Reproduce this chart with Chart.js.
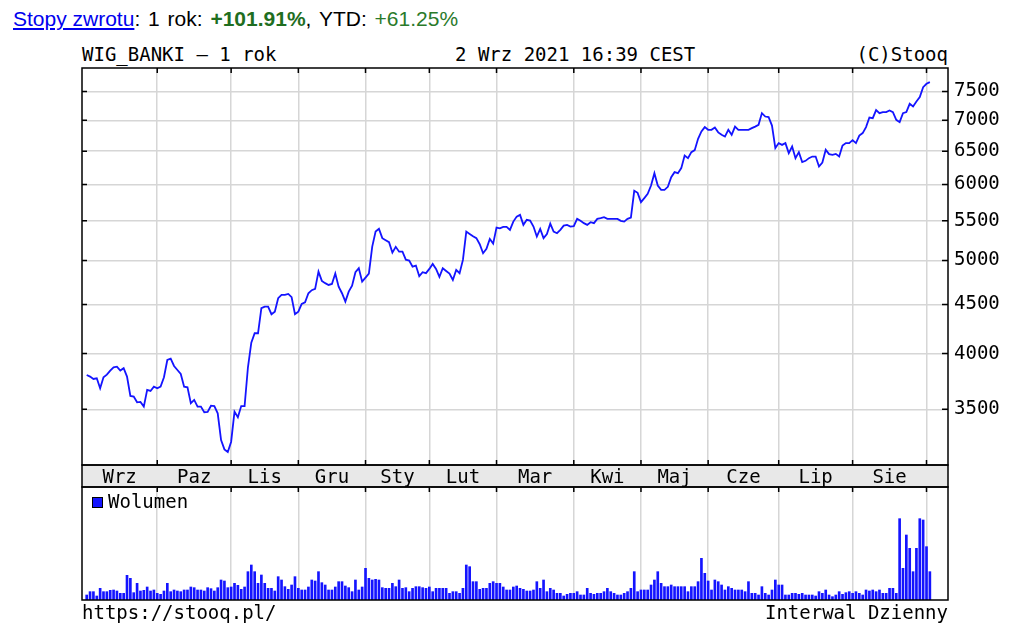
<!DOCTYPE html>
<html>
<head>
<meta charset="utf-8">
<script src="https://cdn.jsdelivr.net/npm/chart.js@4.4.1/dist/chart.umd.min.js"></script>
<style>
  body { margin: 0; background: #fff; width: 1024px; height: 629px; overflow: hidden; position: relative; }
  .mono { position: absolute; font-family: "DejaVu Sans Mono", monospace; font-size: 19px; line-height: 20px; white-space: pre; color: #000; }
  #hdr { position: absolute; left: 13px; top: 7px; font-family: "Liberation Sans", Arial, sans-serif; font-size: 21px; line-height: 24px; word-spacing: 2px; white-space: pre; color: #000; }
  #hdr a { color: #0000ee; text-decoration: underline; word-spacing: 0; }
  #hdr .g1 { color: #1f6e1f; font-weight: bold; }
  #hdr .g2 { color: #2a7a2a; }
  canvas { position: absolute; left: 0; }
  #leg_box { position: absolute; left: 92px; top: 497px; width: 9px; height: 9px; background: #1414ff; border: 1px solid #000; }
</style>
</head>
<body>
<div id="hdr"><a href="#">Stopy zwrotu</a>: 1 rok: <span class="g1">+101.91%</span>, YTD: <span class="g2">+61.25%</span></div>
<div class="mono" style="left:82px;top:44px">WIG_BANKI – 1 rok</div>
<div class="mono" style="left:455px;top:44px">2 Wrz 2021 16:39 CEST</div>
<div class="mono" style="right:76px;top:44px">(C)Stooq</div>

<canvas id="price_chart" width="1024" height="428" style="top:60px"></canvas>
<canvas id="volume_chart" width="1024" height="125" style="top:480px"></canvas>

<div id="leg_box"></div>
<div class="mono" style="left:108px;top:491px">Wolumen</div>
<div class="mono" style="left:82px;top:602px">https://stooq.pl/</div>
<div class="mono" style="right:76px;top:602px">Interwal Dzienny</div>

<script>
// daily closes, session index 0 = 2 Wrz 2020 ... 251 = 2 Wrz 2021
const close_values = [
  3800, 3785, 3764, 3770, 3681, 3779, 3803, 3840, 3871, 3876,
  3840, 3862, 3785, 3614, 3608, 3559, 3562, 3522, 3666, 3657,
  3695, 3681, 3695, 3779, 3939, 3952, 3883, 3846, 3809, 3695,
  3689, 3551, 3579, 3522, 3522, 3475, 3478, 3530, 3527, 3466,
  3251, 3179, 3159, 3238, 3480, 3433, 3527, 3527, 3871, 4106,
  4200, 4200, 4460, 4477, 4477, 4396, 4423, 4568, 4604, 4604,
  4615, 4579, 4396, 4423, 4506, 4524, 4623, 4657, 4671, 4869,
  4762, 4736, 4716, 4727, 4846, 4697, 4623, 4531, 4641, 4708,
  4862, 4909, 4753, 4799, 4846, 5171, 5360, 5395, 5276, 5250,
  5225, 5096, 5167, 5108, 5108, 5011, 5000, 4928, 4940, 4816,
  4862, 4851, 4901, 4960, 4901, 4808, 4909, 4877, 4846, 4773,
  4889, 4851, 5008, 5360, 5330, 5301, 5276, 5200, 5089, 5142,
  5266, 5207, 5411, 5402, 5421, 5421, 5382, 5490, 5556, 5579,
  5447, 5513, 5503, 5425, 5296, 5395, 5276, 5327, 5463, 5360,
  5339, 5382, 5437, 5447, 5425, 5430, 5526, 5500, 5469, 5447,
  5482, 5469, 5526, 5535, 5548, 5526, 5526, 5526, 5526, 5500,
  5490, 5526, 5544, 5910, 5882, 5752, 5808, 5867, 5985, 6166,
  5985, 5924, 5924, 5967, 6107, 6181, 6166, 6241, 6432, 6392,
  6485, 6516, 6695, 6814, 6886, 6842, 6842, 6880, 6800, 6760,
  6732, 6842, 6760, 6895, 6842, 6842, 6842, 6842, 6869, 6895,
  6924, 7121, 7063, 7053, 6912, 6548, 6627, 6599, 6627, 6470,
  6573, 6392, 6485, 6331, 6351, 6392, 6417, 6417, 6265, 6325,
  6521, 6454, 6443, 6458, 6417, 6588, 6627, 6627, 6674, 6627,
  6748, 6788, 6886, 7046, 7036, 7173, 7121, 7138, 7138, 7166,
  7138, 7007, 6969, 7121, 7138, 7282, 7235, 7322, 7400, 7579,
  7640, 7671
];

// volume per session (relative units)
const volume_values = [
  15, 25, 25, 12, 35, 25, 25, 29, 30, 27,
  20, 20, 74, 65, 22, 50, 27, 29, 39, 27,
  30, 20, 17, 27, 50, 25, 30, 27, 25, 30,
  30, 39, 37, 30, 30, 27, 37, 34, 27, 37,
  60, 57, 37, 39, 50, 44, 32, 39, 85, 105,
  85, 50, 75, 50, 35, 35, 27, 70, 60, 40,
  32, 45, 70, 35, 30, 30, 39, 60, 57, 85,
  52, 45, 30, 30, 39, 55, 55, 42, 37, 25,
  60, 30, 39, 95, 65, 60, 62, 60, 37, 35,
  35, 50, 40, 60, 35, 37, 25, 35, 40, 40,
  37, 35, 39, 25, 35, 35, 35, 35, 20, 25,
  25, 20, 35, 105, 100, 55, 55, 32, 35, 35,
  50, 55, 50, 50, 39, 30, 30, 39, 42, 35,
  32, 27, 27, 30, 55, 35, 60, 25, 35, 30,
  20, 20, 12, 17, 20, 20, 25, 15, 15, 35,
  20, 17, 20, 20, 25, 35, 25, 20, 15, 15,
  20, 25, 35, 85, 25, 30, 30, 30, 45, 60,
  85, 50, 40, 40, 45, 40, 40, 40, 40, 25,
  40, 40, 55, 125, 80, 57, 30, 60, 55, 45,
  30, 40, 35, 30, 30, 30, 25, 55, 20, 20,
  15, 40, 20, 15, 30, 60, 45, 45, 15, 15,
  20, 20, 17, 20, 15, 15, 15, 12, 25, 20,
  30, 15, 10, 15, 25, 17, 22, 25, 20, 25,
  20, 15, 30, 27, 30, 25, 30, 20, 20, 35,
  35, 20, 244, 95, 195, 155, 85, 155, 244, 240,
  160, 85
];

// first session of each month (grid lines) and month labels
const month_starts = [21, 43, 63, 83, 102, 122, 145, 165, 185, 206, 228, 250];
const month_labels = ['Wrz', 'Paz', 'Lis', 'Gru', 'Sty', 'Lut', 'Mar', 'Kwi', 'Maj', 'Cze', 'Lip', 'Sie'];
const y_tick_values = [3500, 4000, 4500, 5000, 5500, 6000, 6500, 7000, 7500];

const x_min = -1.4;
const x_max = 256.4;
const grid_color = '#d6d6d6';
const line_color = '#1414ff';
const mono_font = { family: 'DejaVu Sans Mono', size: 19 };

// label positions = middle of each month
const month_bounds = [x_min].concat(month_starts);
const label_positions = month_labels.map((m, k) => (month_bounds[k] + month_bounds[k + 1]) / 2);

// frame, inner tick marks and the month band
const frame_plugin = {
  id: 'frame',
  beforeDraw(chart, args, opts) {
    if (!opts.band) return;
    const ctx = chart.ctx;
    const a = chart.chartArea;
    ctx.save();
    ctx.fillStyle = '#e8e8e8';
    ctx.fillRect(a.left, a.bottom, a.right - a.left, opts.band);
    ctx.restore();
  },
  afterDraw(chart, args, opts) {
    const ctx = chart.ctx;
    const a = chart.chartArea;
    ctx.save();
    ctx.strokeStyle = '#000';
    ctx.lineWidth = 1.5;
    ctx.strokeRect(a.left, a.top, a.right - a.left, a.bottom - a.top);
    if (opts.band) {
      ctx.strokeRect(a.left, a.bottom, a.right - a.left, opts.band);
    }
    ctx.beginPath();
    const xs = chart.scales.x;
    month_starts.forEach((m) => {
      const px = xs.getPixelForValue(m);
      ctx.moveTo(px, a.top);
      ctx.lineTo(px, a.top + 5);
      if (opts.bottom_ticks) {
        ctx.moveTo(px, a.bottom);
        ctx.lineTo(px, a.bottom - 5);
      }
    });
    if (opts.y_ticks) {
      const ys = chart.scales.y;
      y_tick_values.forEach((v) => {
        const py = ys.getPixelForValue(v);
        ctx.moveTo(a.left, py);
        ctx.lineTo(a.left + 5, py);
        ctx.moveTo(a.right, py);
        ctx.lineTo(a.right - 6, py);
      });
    }
    ctx.stroke();
    ctx.restore();
  }
};

const grid_axis = {
  type: 'linear',
  min: x_min,
  max: x_max,
  position: 'bottom',
  weight: 0,
  afterBuildTicks: (scale) => { scale.ticks = month_starts.map((v) => ({ value: v })); },
  afterFit: (scale) => { scale.height = 0; },
  ticks: { display: false },
  grid: { color: grid_color, lineWidth: 1.5, drawTicks: false },
  border: { display: false }
};

const price_ctx = document.getElementById('price_chart').getContext('2d');
const price_chart = new Chart(price_ctx, {
  type: 'line',
  data: {
    datasets: [{
      data: close_values.map((v, i) => ({ x: i, y: v })),
      borderColor: line_color,
      borderWidth: 1.8,
      pointRadius: 0,
      tension: 0,
      fill: false
    }]
  },
  options: {
    responsive: false,
    animation: false,
    layout: { padding: { left: 82, top: 8, right: 0, bottom: 1 } },
    plugins: {
      legend: { display: false },
      tooltip: { enabled: false },
      frame: { band: 22, bottom_ticks: true, y_ticks: true }
    },
    scales: {
      x: grid_axis,
      x2: {
        type: 'linear',
        min: x_min,
        max: x_max,
        position: 'bottom',
        weight: 1,
        afterBuildTicks: (scale) => { scale.ticks = label_positions.map((v) => ({ value: v })); },
        afterFit: (scale) => { scale.height = 22; },
        ticks: {
          autoSkip: false,
          maxRotation: 0,
          padding: 2,
          color: '#000',
          font: mono_font,
          callback: (v) => month_labels[label_positions.indexOf(v)]
        },
        grid: { display: false, drawTicks: false },
        border: { display: false }
      },
      y: {
        type: 'logarithmic',
        position: 'right',
        min: 3062,
        max: 7935,
        afterBuildTicks: (scale) => { scale.ticks = y_tick_values.map((v) => ({ value: v })); },
        afterFit: (scale) => {
          scale.width = 76;
          scale.paddingTop = 0;
          scale.paddingBottom = 0;
        },
        ticks: {
          padding: 6,
          color: '#000',
          font: mono_font,
          callback: (v) => String(v)
        },
        grid: { color: grid_color, lineWidth: 1.5, drawTicks: false },
        border: { display: false }
      }
    }
  },
  plugins: [frame_plugin]
});

const volume_ctx = document.getElementById('volume_chart').getContext('2d');
const volume_chart = new Chart(volume_ctx, {
  type: 'bar',
  data: {
    datasets: [{
      data: volume_values.map((v, i) => ({ x: i, y: v })),
      backgroundColor: line_color,
      barThickness: 2
    }]
  },
  options: {
    responsive: false,
    animation: false,
    layout: { padding: { left: 82, top: 7, right: 76, bottom: 5 } },
    plugins: {
      legend: { display: false },
      tooltip: { enabled: false },
      frame: { band: 0, bottom_ticks: false, y_ticks: false }
    },
    scales: {
      x: Object.assign({}, grid_axis, { offset: false, grid: { color: grid_color, lineWidth: 1.5, drawTicks: false, offset: false } }),
      y: {
        type: 'linear',
        display: false,
        min: 0,
        max: 339
      }
    }
  },
  plugins: [frame_plugin]
});
</script>
</body>
</html>
